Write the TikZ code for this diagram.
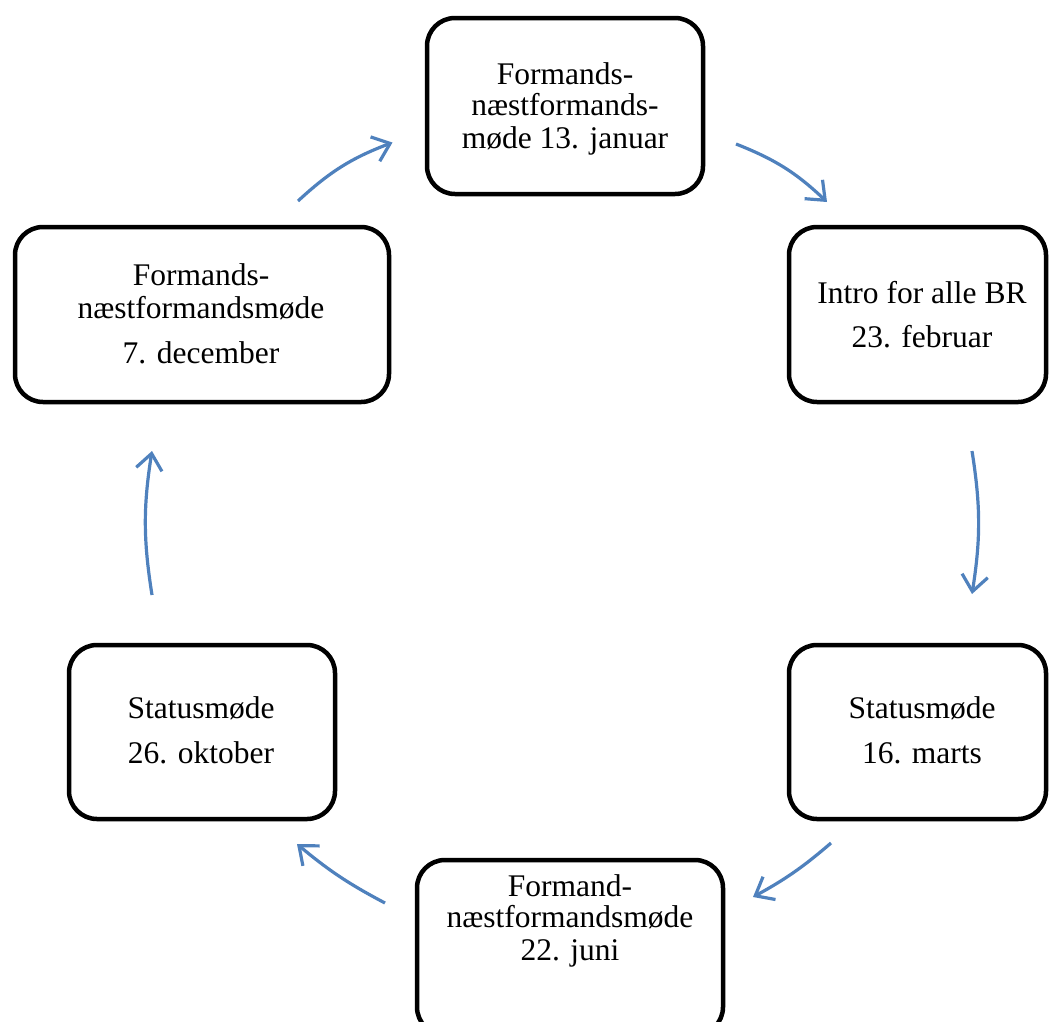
\documentclass[tikz,border=0pt]{standalone}
\usepackage{fontspec}
\setmainfont{Liberation Serif}
\usetikzlibrary{arrows.meta}
\definecolor{arrblue}{HTML}{4F81BD}
\tikzset{
  box/.style={draw=black, line width=4.5pt, rounded corners=28pt, fill=white},
  txt/.style={anchor=base, inner sep=0pt, font=\fontsize{31.5}{33}\selectfont},
  arr/.style={draw=arrblue, line width=3.2pt, -{Straight Barb[length=16pt,width=26pt]}}
}
\begin{document}
\begin{tikzpicture}[x=1pt,y=-1pt]
\useasboundingbox (0,0) rectangle (1049,1021);
\clip (0,0) rectangle (1049,1021);
% boxes
\node[box, minimum width=276pt, minimum height=176pt] (top) at (565,106) {};
\node[box, minimum width=257pt, minimum height=175pt] (rtop) at (917.5,314.5) {};
\node[box, minimum width=257pt, minimum height=174pt] (rbot) at (917.5,732) {};
\node[box, minimum width=306pt, minimum height=175pt] (bot) at (570,947.5) {};
\node[box, minimum width=266pt, minimum height=174pt] (lbot) at (202,732) {};
\node[box, minimum width=374pt, minimum height=175pt] (ltop) at (202,314.5) {};
% texts
\node[txt] (t1) at (565,84) {Formands-};
\node[txt] (t2) at (565,115) {næstformands-};
\node[txt] (t3) at (565,148) {møde 13. januar};
\node[txt] (r1) at (922,303) {Intro for alle BR};
\node[txt] (r2) at (922,347) {23. februar};
\node[txt] (s1) at (922,718) {Statusmøde};
\node[txt] (s2) at (922,763) {16. marts};
\node[txt] (b1) at (570,896) {Formand-};
\node[txt] (b2) at (570,927) {næstformandsmøde};
\node[txt] (b3) at (570,960) {22. juni};
\node[txt] (o1) at (201,718) {Statusmøde};
\node[txt] (o2) at (201,763) {26. oktober};
\node[txt] (d1) at (201,285) {Formands-};
\node[txt] (d2) at (201,318) {næstformandsmøde};
\node[txt] (d3) at (201,363) {7. december};
% arrow end points
\coordinate (a1s) at (298,201);
\coordinate (a1e) at (392.5,142.5);
\coordinate (a2s) at (736,144);
\coordinate (a2e) at (827,202);
\coordinate (a3s) at (972,451);
\coordinate (a3e) at (972,594);
\coordinate (a4s) at (831,843);
\coordinate (a4e) at (753,897);
\coordinate (a5s) at (385,903);
\coordinate (a5e) at (297,844);
\coordinate (a6s) at (152,595);
\coordinate (a6e) at (152,451);
% arrows
\draw[arr] (a1s) to[bend left=11] (a1e);
\draw[arr] (a2s) to[bend left=11] (a2e);
\draw[arr] (a3s) to[bend left=9] (a3e);
\draw[arr] (a4s) to[bend left=6] (a4e);
\draw[arr] (a5s) to[bend left=6] (a5e);
\draw[arr] (a6s) to[bend left=9] (a6e);
\end{tikzpicture}
\end{document}
